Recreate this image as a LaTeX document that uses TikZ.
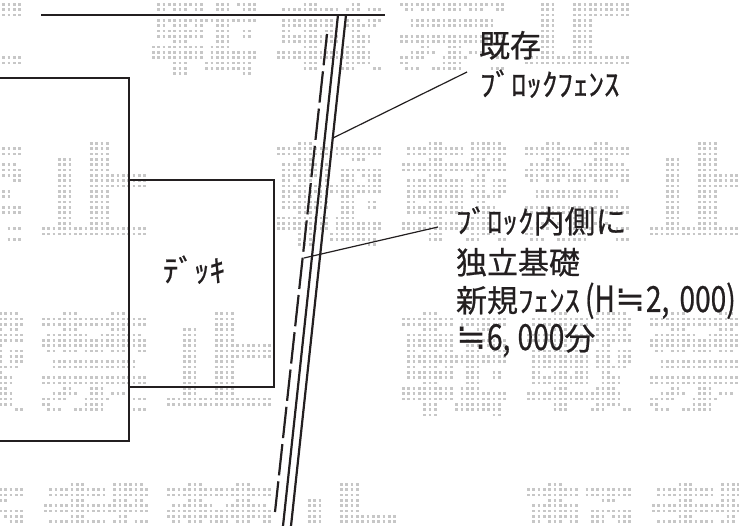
\documentclass[tikz,border=0pt]{standalone}
\usepackage{fontspec}
\setmainfont[FakeBold=0.6]{Noto Sans CJK JP}
\newfontfamily\latf[FakeStretch=0.78,FakeBold=0.6]{Noto Sans CJK JP}
\newfontfamily\symf{DejaVu Sans}
\newcommand\lat[1]{{\fontsize{36}{36}\latf #1}}
\newcommand\approxsign{\makebox[31pt][c]{\fontsize{36}{36}\symf ≒}}
\newcommand\gapcomma[1]{\makebox[#1][l]{\lat{,}}}
\definecolor{ink}{HTML}{231F20}
\definecolor{wmgrey}{gray}{0.78}
\tikzset{
  wall/.style={draw=ink,line width=2.4pt,line cap=butt,line join=miter},
  rail/.style={draw=ink,line width=2.2pt},
  dashrail/.style={draw=ink,line width=2.2pt,dash pattern=on 31.5pt off 6pt},
  leader/.style={draw=ink,line width=1.2pt},
  label/.style={anchor=base west,inner sep=0pt,outer sep=0pt,text=ink,font=\fontsize{31}{31}\selectfont},
  wmdot/.style={draw=wmgrey,line width=2.6pt,dash pattern=on 2.6pt off 2.73pt}
}
% watermark: dot-matrix glyphs, each run = rowfrom/rowto/colfrom/colto
\def\glyphA{0/0/4/6,1/2/0/9,1/2/11/19,3/3/4/6,3/3/14/16,4/6/1/9,5/5/12/19,6/6/12/14,6/6/16/19,7/7/1/2,7/7/4/6,7/7/8/9,7/7/12/14,7/7/17/19,8/9/1/19,10/10/1/2,10/10/4/6,10/10/8/9,10/10/12/14,11/12/1/9,11/12/12/14,11/12/17/18,13/13/4/6,13/13/12/14,14/16/0/9,14/14/11/14,15/16/11/19,17/18/4/6,17/18/10/18,19/19/4/6,19/19/17/18}
\def\glyphB{0/0/5/7,0/0/13/18,1/2/1/11,1/2/13/19,3/3/5/7,3/3/13/15,3/3/17/18,4/5/0/19,6/6/5/7,6/6/14/15,7/9/1/11,7/9/13/15,7/9/17/19,10/10/1/11,10/10/13/18,11/11/1/2,11/11/5/7,11/11/9/11,11/11/14/15,12/13/1/11,12/13/14/17,14/14/5/7,14/14/13/16,15/16/0/17,17/17/5/7,17/17/13/17,18/18/5/7,18/18/12/14,18/18/18/19}
\def\glyphC{0/0/4/6,0/0/13/15,1/2/0/19,3/3/4/6,3/3/13/15,4/4/1/8,4/4/11/18,5/6/0/19,7/7/1/2,7/7/4/6,7/7/8/11,7/7/13/15,7/7/18/19,9/10/2/17,12/13/0/19,14/14/4/5,14/14/9/11,15/15/2/6,15/15/9/11,15/15/13/15,16/16/0/4,16/16/8/12,16/16/17/19,17/17/0/1,17/17/8/11,18/18/1/3,18/18/6/11,18/18/17/19}
\def\glyphD{0/15/9/12,3/15/3/5,6/8/13/19,16/17/0/19}
\newcommand\wmglyph[3]{%
  \foreach \ra/\rb/\ca/\cb in #1 {%
    \foreach \rr in {\ra,...,\rb} {%
      \draw[wmdot] ({#2+\ca*5.33},{#3+\rr*5.33+1.3}) -- ({#2+\cb*5.33+2.6},{#3+\rr*5.33+1.3});
    }%
  }%
}
\newcommand\wmrow[2]{%
  \foreach \sh in {-608,0,608} {%
    \wmglyph{\glyphA}{#1+\sh}{#2}
    \wmglyph{\glyphB}{#1+125+\sh}{#2}
    \wmglyph{\glyphC}{#1+248+\sh}{#2}
    \wmglyph{\glyphD}{#1+373+\sh}{#2}
  }%
}
\begin{document}
\begin{tikzpicture}[x=1pt,y=-1pt]
\useasboundingbox (0,0) rectangle (739,526);
\fill[white] (0,0) rectangle (739,526);
\begin{scope}
\clip (0,0) rectangle (739,526);
\wmrow{152}{-29}
\wmrow{277}{142}
\wmrow{402}{312.5}
\wmrow{527}{483}
\end{scope}
% structure
\coordinate (roofL) at (41,15);
\coordinate (roofR) at (385,15);
\coordinate (houseTL) at (0,78);
\coordinate (houseTR) at (129,78);
\coordinate (houseBR) at (129,441);
\coordinate (houseBL) at (0,441);
\coordinate (deckTL) at (129,180);
\coordinate (deckTR) at (274,180);
\coordinate (deckBR) at (274,387);
\coordinate (deckBL) at (129,387);
\coordinate (fenceOutT) at (346,15);
\coordinate (fenceOutB) at (291,526);
\coordinate (fenceInT) at (338,15);
\coordinate (fenceInB) at (283,526);
\coordinate (newT) at (327,34);
\coordinate (newB) at (275,512);
\coordinate (leadAa) at (333,138);
\coordinate (leadAb) at (467,72);
\coordinate (leadBa) at (304,258);
\coordinate (leadBb) at (438,227);
\draw[wall] (roofL) -- (roofR);
\draw[wall] (houseTL) -- (houseTR) -- (houseBR) -- (houseBL);
\draw[wall] (deckTL) -- (deckTR) -- (deckBR) -- (deckBL);
\draw[rail] (fenceOutT) -- (fenceOutB);
\draw[rail] (fenceInT) -- (fenceInB);
\draw[dashrail] (newT) -- (newB);
\draw[leader] (leadAa) -- (leadAb);
\draw[leader] (leadBa) -- (leadBb);
% labels
\node[label] (existing) at (479,57) {既存};
\node[label] (blockfence) at (480,96) {ﾌﾞﾛｯｸﾌｪﾝｽ};
\node[label] (inner) at (456,233) {ﾌﾞﾛｯｸ内側に};
\node[label] (indep) at (456,274) {独立基礎};
\node[label] (newfence) at (456,312) {新規ﾌｪﾝｽ\hspace{5pt}\lat{(H}\approxsign\lat{2}\gapcomma{18pt}\lat{000)}};
\node[label] (qty) at (456,350) {\approxsign\lat{6}\gapcomma{15pt}\lat{000}分};
\node[label] (deck) at (163,282) {ﾃﾞｯｷ};
\end{tikzpicture}
\end{document}
